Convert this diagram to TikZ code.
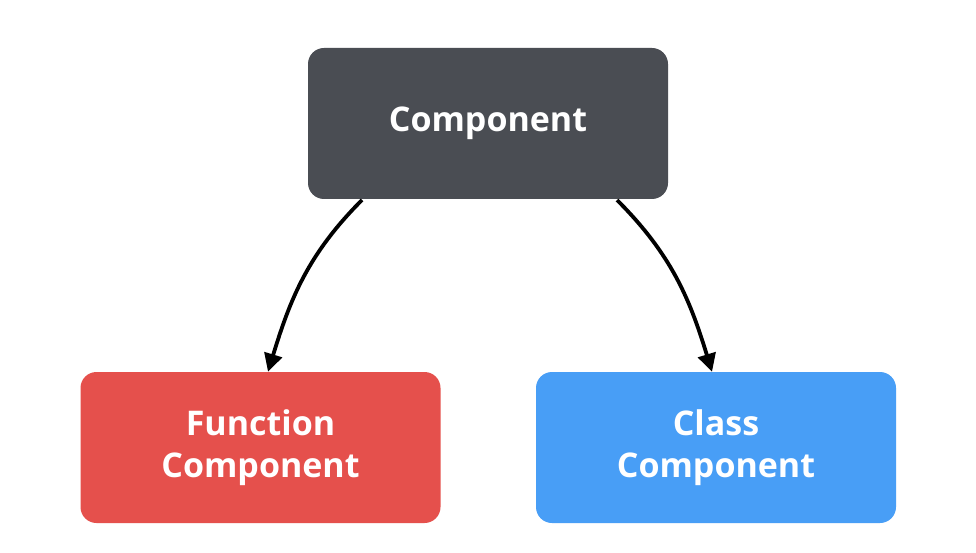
\documentclass[tikz,border=0pt]{standalone}
\usepackage{fontspec}
\setmainfont{Open Sans}
\usetikzlibrary{arrows.meta}
\definecolor{boxdark}{HTML}{4A4D53}
\definecolor{boxred}{HTML}{E5504C}
\definecolor{boxblue}{HTML}{489EF6}
\begin{document}
\begin{tikzpicture}[x=1pt,y=1pt,
  card/.style={rounded corners=16pt, minimum width=360pt, minimum height=151pt,
    inner sep=0pt, align=center, text=white,
    font=\fontsize{34}{42}\selectfont\bfseries},
  link/.style={line width=3.8pt, -{Triangle[length=18pt,width=18pt]}}]
  \fill[white] (0,0) rectangle (976,552);
  \useasboundingbox (0,0) rectangle (976,552);
  \node[card, fill=boxdark] (comp) at (488,428.5) {Component};
  \node[card, fill=boxred] (func) at (260.5,104.5) {Function\\Component};
  \node[card, fill=boxblue] (cls) at (716,104.5) {Class\\Component};
  \coordinate (s1) at (362,352);
  \coordinate (s2) at (617,352);
  \draw[link] (s1) to[out=-135,in=73] (func.north -| 268,0);
  \draw[link] (s2) to[out=-45,in=107] (cls.north -| 712,0);
\end{tikzpicture}
\end{document}
